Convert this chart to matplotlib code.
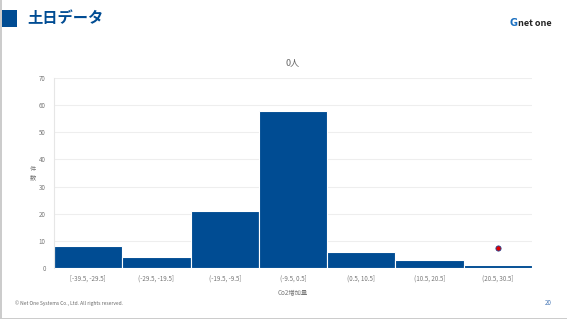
import matplotlib
matplotlib.use("Agg")
import matplotlib.pyplot as plt
from matplotlib.patches import Rectangle

plt.rcParams['font.family'] = ['Noto Sans CJK JP', 'DejaVu Sans']

categories = ["[-39.5, -29.5]", "(-29.5, -19.5]", "(-19.5, -9.5]", "(-9.5, 0.5]",
              "(0.5, 10.5]", "(10.5, 20.5]", "(20.5, 30.5]"]
counts = [8, 4, 21, 58, 6, 3, 1]
marker_category = 6
marker_value = 7.4
yticks = [0, 10, 20, 30, 40, 50, 60, 70]
title = "0人"
xlabel = "Co2増加量"
ylabel = "件数"
header = "土日データ"
footer = "© Net One Systems Co., Ltd. All rights reserved."
page = "20"

BLUE = "#004C93"

fig = plt.figure(figsize=(5.67, 3.19), dpi=100)
fig.patch.set_facecolor("white")

# slide decorations
fig.add_artist(Rectangle((0, 1 - 27/319), 17/567, 17/319, transform=fig.transFigure,
                         color=BLUE, lw=0))
fig.text(27/567, 1 - 18/319, header, color=BLUE, fontsize=11, fontweight="bold",
         va="center", ha="left")
fig.text(509/567, 1 - 23/319, "G", color="#1a6fc0", fontsize=7, fontweight="bold",
         va="center", ha="left", family=["DejaVu Sans"])
fig.text(518/567, 1 - 23/319, "net one", color="#222222", fontsize=6.5, fontweight="bold",
         va="center", ha="left")
fig.text(15/567, 1 - 303/319, footer, color="#666666", fontsize=3.5, va="center", ha="left")
fig.text(548/567, 1 - 303/319, page, color="#4a7ab8", fontsize=4.5, va="center", ha="center")
# left & bottom border
fig.add_artist(Rectangle((0, 0), 1.5/567, 1, transform=fig.transFigure, color="#cccccc", lw=0))
fig.add_artist(Rectangle((0, 0), 1, 1.5/319, transform=fig.transFigure, color="#cccccc", lw=0))

ax = fig.add_axes([54/567, 1 - 268/319, (532-54)/567, (268-78)/319])
x = list(range(len(categories)))
ax.bar(x, counts, width=1.0, color=BLUE, edgecolor="white", linewidth=0.8, zorder=2)
ax.scatter([marker_category], [marker_value], s=14, color="#e00000",
           edgecolors="#1f3f8f", linewidths=0.6, zorder=3)
ax.set_xlim(-0.5, len(categories) - 0.5)
ax.set_ylim(0, 70)
ax.set_yticks(yticks)
ax.set_yticklabels([str(v) for v in yticks], fontsize=4.5, color="#777777")
ax.set_xticks(x)
ax.set_xticklabels(categories, fontsize=4.5, color="#777777")
ax.tick_params(length=0, pad=5)
ax.tick_params(axis="y", pad=6)
ax.grid(axis="y", color="#eeeeee", linewidth=0.8, zorder=0)
for s in ["top", "right", "bottom"]:
    ax.spines[s].set_visible(False)
ax.spines["left"].set_color("#e6e6e6")
ax.spines["left"].set_linewidth(0.8)
ax.set_xlabel(xlabel, fontsize=4.5, color="#777777", labelpad=4)
ax.set_ylabel("\n".join(ylabel), fontsize=4.5, color="#777777", rotation=0,
              va="center", labelpad=4, linespacing=1.0)
ax.set_title(title, fontsize=6.5, color="#666666", pad=9)

fig.savefig("out.png", dpi=100, facecolor="white")
